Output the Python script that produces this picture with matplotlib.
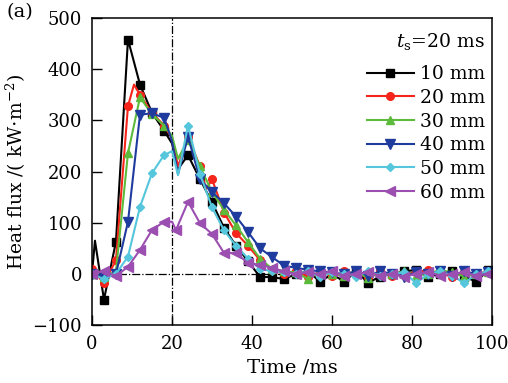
import matplotlib
matplotlib.use('Agg')
import matplotlib.pyplot as plt

plt.rcParams['font.family'] = ['DejaVu Serif']
plt.rcParams['mathtext.fontset'] = 'dejavuserif'

# Data points (time in ms, heat flux in kW/m^2)
tail_t = [48, 51, 54, 57, 60, 63, 66, 69, 72, 75, 78, 81, 84, 87, 90, 93, 96, 99, 100]

t_10 = [0, 0.75, 3, 6, 9, 12, 15, 18, 20, 21.5, 24, 27, 30, 33, 36, 39, 42, 45] + tail_t
q_10 = [0, 65, -50, 63, 458, 370, 315, 280, 255, 205, 232, 185, 140, 90, 55, 25, -6, -6,
        -10, 0, 5, -15, 0, -15, 5, -17, -5, 0, 5, 8, -5, 0, 5, -5, -15, 8, 12]

t_20 = [0, 3, 6, 9, 10.5, 12, 15, 18, 20, 21.5, 24, 27, 28.5, 30, 33, 36, 39, 42, 45] + tail_t
q_20 = [10, -18, 27, 328, 370, 350, 315, 290, 265, 210, 268, 210, 165, 185, 120, 80, 55, 27, 8,
        0, 5, -5, 3, -3, 5, 0, -5, 5, -3, 0, 3, 8, 0, -5, 3, 0, 5, 8]

t_30 = [0, 3, 6, 9, 12, 15, 18, 20, 21.5, 24, 27, 30, 33, 36, 39, 42, 45] + tail_t
q_30 = [0, -5, 5, 236, 345, 312, 290, 270, 225, 262, 210, 160, 125, 95, 62, 30, 10,
        5, 3, -10, 5, 0, -3, 5, -8, 3, 0, 5, -3, 0, 8, 3, -5, 0, 3, 5]

t_40 = [0, 3, 6, 9, 12, 15, 18, 20, 21.5, 24, 27, 30, 33, 36, 39, 42, 45] + tail_t
q_40 = [0, -5, 0, 102, 311, 314, 305, 260, 195, 268, 185, 160, 138, 112, 82, 50, 33,
        16, 12, 8, 5, 3, 0, 5, -3, 5, 0, -5, 3, 0, 5, -3, 5, 0, 3, 5]

t_50 = [0, 3, 6, 9, 12, 15, 18, 20, 21.5, 24, 27, 30, 33, 36, 39, 42, 45] + tail_t
q_50 = [0, -10, 0, 34, 131, 197, 232, 240, 193, 290, 195, 130, 85, 55, 30, 10, 5,
        3, 0, 5, -5, 3, 0, -5, 5, -3, 0, 3, -18, 0, 5, -3, -18, 0, 5, 3]

t_60 = [0, 3, 6, 9, 12, 15, 18, 20, 21, 24, 27, 30, 33, 36, 39, 42, 45] + tail_t
q_60 = [0, 6, -4, 14, 47, 86, 102, 102, 86, 141, 99, 78, 41, 41, 21, 18, 12,
        5, 0, 3, 0, 5, -3, 0, 3, -3, 0, -5, 0, 3, -3, 0, 3, -3, 0, 3]

labels = ['10 mm', '20 mm', '30 mm', '40 mm', '50 mm', '60 mm']
series = [(t_10, q_10), (t_20, q_20), (t_30, q_30), (t_40, q_40), (t_50, q_50), (t_60, q_60)]
colors = ['#000000', '#f5251b', '#5dbb3c', '#1f3b9e', '#55c6dc', '#9b4fb0']
markers = ['s', 'o', '^', 'v', 'D', '<']
msizes = [6, 5.5, 6, 6.5, 4.5, 6.5]

fig = plt.figure(figsize=(5.08, 3.83), dpi=100)
ax = fig.add_axes([0.181, 0.151, 0.788, 0.802])

for (t, q), lab, c, m, ms in zip(series, labels, colors, markers, msizes):
    marks = [i for i, tt in enumerate(t) if tt % 3 == 0 and tt <= 99]
    ax.plot(t, q, color=c, marker=m, markersize=ms, linewidth=1.5,
            markevery=marks, label=lab)

# reference lines
ax.axvline(20, color='black', linestyle='-.', linewidth=0.9, zorder=0)
ax.axhline(0, color='black', linestyle='-.', linewidth=0.9, zorder=0)

ax.set_xlim(0, 100)
ax.set_ylim(-100, 500)
ax.set_xticks([0, 20, 40, 60, 80, 100])
ax.set_yticks([-100, 0, 100, 200, 300, 400, 500])
ax.set_yticklabels(['\u2212100', '0', '100', '200', '300', '400', '500'])
ax.tick_params(direction='in', length=7, width=1, labelsize=13, pad=7)
for s in ax.spines.values():
    s.set_linewidth(1.1)

ax.set_xlabel('Time /ms', fontsize=14, labelpad=4)
ax.set_ylabel('Heat flux /( kW$\\cdot$m$^{-2}$)', fontsize=13.5)
ax.yaxis.set_label_coords(-0.16, 0.5)

ax.text(0.87, 0.922, '$t_\\mathrm{s}$=20 ms', transform=ax.transAxes,
        fontsize=13.5, ha='center', va='center')
leg = ax.legend(loc='upper right', bbox_to_anchor=(1.0, 0.87), frameon=False,
                fontsize=13.5, handlelength=2.5, labelspacing=0.3,
                borderaxespad=0.0, handletextpad=0.3)

fig.text(0.012, 0.955, '(a)', fontsize=14)

fig.savefig('out.png', dpi=100)
